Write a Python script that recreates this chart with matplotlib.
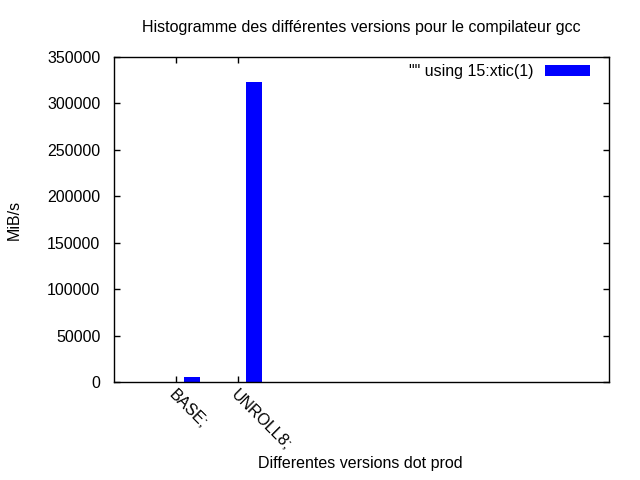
import matplotlib
matplotlib.use('Agg')
from matplotlib import pyplot as plt
import numpy as np

plt.rcParams['font.family'] = ['Liberation Sans', 'DejaVu Sans']

versions = ['BASE;', 'UNROLL8;']
bandwidth = [5400, 323000]
yticks = [0, 50000, 100000, 150000, 200000, 250000, 300000, 350000]

fig = plt.figure(figsize=(6.4, 4.8), dpi=100)
ax = fig.add_axes([0.1786, 0.2042, 0.7729, 0.6771])

x = np.arange(len(versions))
ax.bar(x + 0.253, bandwidth, width=0.266, color='#0000ff', label='"" using 15:xtic(1)')

ax.set_xlim(-1.0, 6.98)
ax.set_ylim(0, 350000)
ax.set_xticks(x)
ax.set_xticklabels(versions, rotation=-45, ha='left', va='top', rotation_mode='anchor')
ax.set_yticks(yticks)
ax.set_yticklabels([str(v) for v in yticks])
ax.tick_params(direction='in', length=4, width=1, top=True, right=True, labelsize=11.5)
ax.tick_params(axis='y', pad=10)
ax.tick_params(axis='x', pad=4)
for s in ax.spines.values():
    s.set_linewidth(1)

ax.set_title('Histogramme des différentes versions pour le compilateur gcc', fontsize=11.5, pad=18)
ax.set_xlabel('Differentes versions dot prod', fontsize=11.5, va='center')
ax.xaxis.set_label_coords(0.497, -0.252)
ax.set_ylabel('MiB/s', fontsize=11.5, va='center')
ax.yaxis.set_label_coords(-0.203, 0.5)

ax.legend(loc='upper right', frameon=False, markerfirst=False, fontsize=11.5,
          handlelength=2.85, handleheight=0.6, handletextpad=0.7,
          bbox_to_anchor=(0.991, 1.022))

fig.savefig('out.png', dpi=100)
